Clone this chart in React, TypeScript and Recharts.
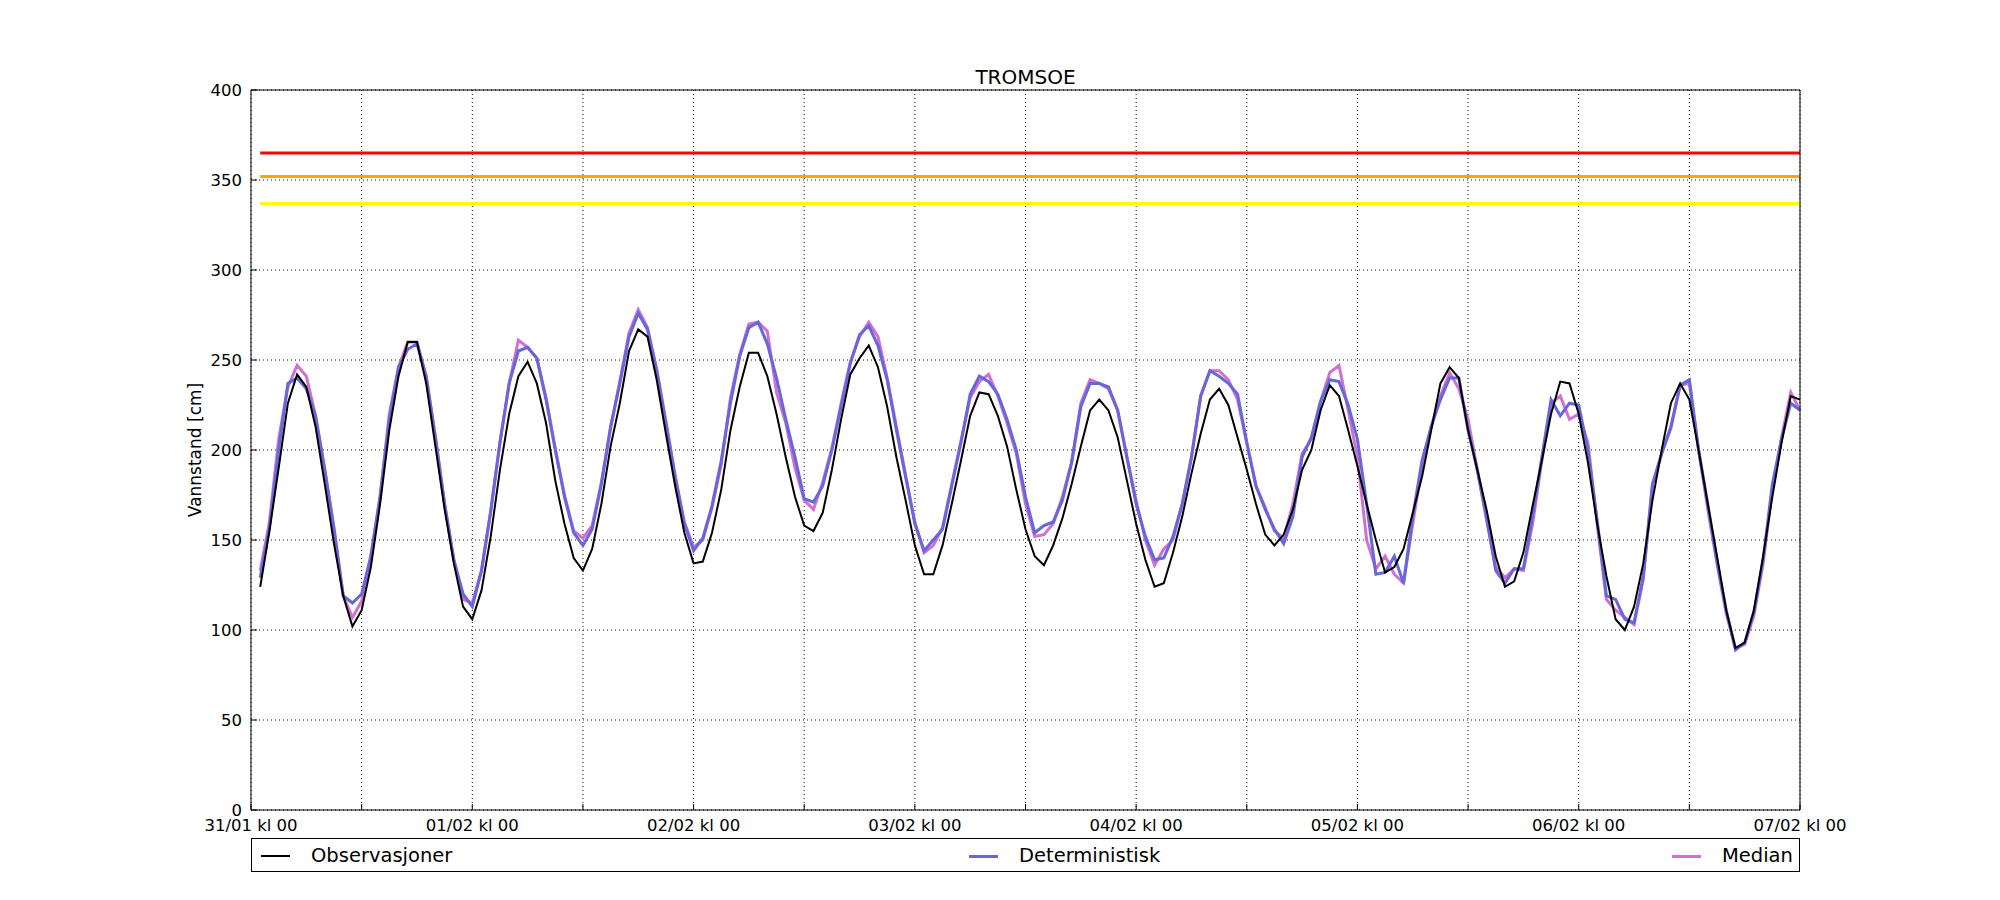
import { LineChart, Line, XAxis, YAxis, CartesianGrid, ReferenceLine } from "recharts";

// vannstand i cm, én verdi per time fra 31/01 kl 01 til 07/02 kl 00
const observasjoner = [
  124, 155, 190, 226, 242, 235, 213, 181, 148, 119, 102, 111,
  135, 170, 211, 241, 260, 260, 237, 202, 167, 137, 113, 106,
  122, 152, 189, 220, 241, 249, 237, 215, 183, 159, 140, 133,
  145, 170, 202, 226, 255, 267, 263, 239, 209, 180, 154, 137,
  138, 154, 178, 211, 235, 254, 254, 241, 220, 196, 174, 158,
  155, 165, 189, 217, 242, 251, 258, 246, 224, 196, 172, 147,
  131, 131, 147, 170, 194, 219, 232, 231, 219, 202, 178, 156,
  141, 136, 147, 162, 181, 202, 222, 228, 222, 207, 183, 159,
  139, 124, 126, 143, 163, 187, 209, 228, 234, 225, 207, 189,
  170, 153, 147, 153, 167, 189, 200, 222, 236, 230, 211, 191,
  170, 150, 132, 135, 145, 165, 185, 211, 237, 246, 240, 211,
  189, 167, 141, 124, 127, 143, 169, 194, 220, 238, 237, 220,
  193, 159, 130, 106, 100, 113, 137, 172, 200, 226, 237, 228,
  200, 170, 141, 111, 90, 93, 111, 141, 174, 204, 230, 228,
];

const deterministisk = [
  129, 157, 200, 237, 240, 234, 219, 189, 156, 119, 115, 120,
  141, 174, 217, 246, 256, 259, 241, 207, 170, 139, 120, 113,
  133, 166, 204, 237, 255, 257, 251, 228, 200, 174, 154, 147,
  156, 181, 213, 237, 263, 276, 267, 244, 215, 185, 159, 144,
  151, 169, 194, 226, 252, 268, 271, 259, 240, 217, 196, 173,
  171, 180, 200, 224, 248, 264, 269, 258, 239, 211, 185, 159,
  144, 150, 156, 180, 204, 231, 241, 238, 231, 217, 200, 174,
  154, 158, 160, 172, 193, 224, 237, 237, 235, 222, 196, 170,
  152, 139, 140, 152, 170, 196, 230, 244, 241, 237, 231, 204,
  180, 167, 156, 148, 163, 196, 207, 227, 239, 238, 225, 206,
  170, 131, 132, 141, 126, 163, 194, 213, 228, 240, 240, 211,
  189, 163, 133, 126, 134, 134, 163, 196, 228, 219, 226, 225,
  200, 161, 119, 117, 106, 104, 130, 181, 198, 213, 236, 239,
  200, 170, 138, 111, 89, 93, 110, 139, 181, 206, 226, 222,
];

const median = [
  133, 160, 206, 235, 247, 241, 219, 189, 157, 119, 107, 116,
  141, 174, 220, 246, 260, 260, 241, 207, 170, 139, 117, 115,
  133, 166, 204, 237, 261, 257, 251, 229, 201, 175, 155, 151,
  158, 182, 212, 238, 265, 278, 268, 245, 216, 186, 160, 146,
  150, 168, 192, 229, 253, 270, 271, 266, 232, 215, 190, 172,
  167, 182, 201, 226, 249, 263, 271, 263, 240, 213, 186, 160,
  143, 147, 157, 181, 205, 229, 238, 242, 230, 215, 198, 170,
  152, 153, 159, 174, 193, 226, 239, 237, 234, 222, 196, 172,
  150, 136, 145, 150, 170, 196, 230, 244, 244, 239, 228, 204,
  180, 168, 155, 151, 170, 198, 206, 227, 243, 247, 222, 196,
  150, 134, 141, 131, 126, 159, 191, 213, 230, 243, 234, 217,
  189, 161, 135, 129, 134, 133, 159, 194, 226, 230, 217, 220,
  204, 159, 117, 111, 107, 103, 128, 181, 198, 212, 236, 237,
  200, 167, 137, 109, 90, 92, 108, 137, 178, 207, 232, 222,
];

const dayLabels = [
  "31/01 kl 00", "01/02 kl 00", "02/02 kl 00", "03/02 kl 00",
  "04/02 kl 00", "05/02 kl 00", "06/02 kl 00", "07/02 kl 00",
];
const xTicks = [0, 12, 24, 36, 48, 60, 72, 84, 96, 108, 120, 132, 144, 156, 168];
const yTicks = [0, 50, 100, 150, 200, 250, 300, 350, 400];

// varslingsnivåer (rød, oransje, gul)
const thresholdValues = [365, 352, 337];
const THRESHOLD_COLORS = ["#ff0000", "#ffa500", "#ffff00"];

const OBS_COLOR = "#000000";
const DET_COLOR = "#6666dd";
const MED_COLOR = "#d070d0";
const FONT = "'DejaVu Sans', sans-serif";

const data = observasjoner.map((v, i) => ({
  hour: i + 1,
  obs: v,
  det: deterministisk[i],
  med: median[i],
}));

const tickStyle = { fontSize: 16.5, fill: "#000", fontFamily: FONT };

function LegendItem({ left, color, width, label }: { left: number; color: string; width: number; label: string }) {
  return (
    <div style={{ position: "absolute", left, top: 0, height: 34, display: "flex", alignItems: "center" }}>
      <div style={{ width: 29, height: width, background: color }} />
      <span style={{ marginLeft: 21, fontSize: 19.5, lineHeight: "20px" }}>{label}</span>
    </div>
  );
}

export default function App() {
  const hourFmt = (v: number) => (v % 24 === 0 ? dayLabels[v / 24] : "");
  const first = data[0].hour;
  const last = data[data.length - 1].hour;

  return (
    <div style={{ position: "absolute", left: 0, top: 0, width: 2000, height: 900, background: "#fff", fontFamily: FONT }}>
      <div style={{ position: "absolute", left: 251, top: 67, width: 1549, textAlign: "center", fontSize: 20, lineHeight: "20px" }}>
        TROMSOE
      </div>
      <div
        style={{
          position: "absolute",
          left: 195,
          top: 450,
          fontSize: 17,
          lineHeight: "17px",
          whiteSpace: "nowrap",
          transform: "translate(-50%, -50%) rotate(-90deg)",
        }}
      >
        Vannstand [cm]
      </div>

      <LineChart width={2000} height={900} data={data} margin={{ top: 80, right: 190, bottom: 60, left: 191 }}>
        <CartesianGrid stroke="#111" strokeDasharray="1 3" strokeWidth={1} />
        <XAxis
          dataKey="hour"
          type="number"
          domain={[0, 168]}
          ticks={xTicks}
          tickFormatter={hourFmt}
          interval={0}
          height={30}
          tick={tickStyle}
          tickSize={-6}
          tickMargin={15}
          axisLine={{ stroke: "#000" }}
          tickLine={{ stroke: "#000" }}
        />
        <XAxis
          xAxisId="top"
          orientation="top"
          type="number"
          domain={[0, 168]}
          ticks={xTicks}
          height={10}
          tick={false}
          tickSize={-6}
          axisLine={{ stroke: "#000" }}
          tickLine={{ stroke: "#000" }}
        />
        <YAxis
          type="number"
          domain={[0, 400]}
          ticks={yTicks}
          interval={0}
          width={60}
          tick={tickStyle}
          tickSize={-6}
          tickMargin={15}
          axisLine={{ stroke: "#000" }}
          tickLine={{ stroke: "#000" }}
        />
        <YAxis
          yAxisId="right"
          orientation="right"
          type="number"
          domain={[0, 400]}
          ticks={yTicks}
          width={10}
          tick={false}
          tickSize={-6}
          axisLine={{ stroke: "#000" }}
          tickLine={{ stroke: "#000" }}
        />
        {thresholdValues.map((v, i) => (
          <ReferenceLine
            key={v}
            segment={[{ x: first, y: v }, { x: last, y: v }]}
            stroke={THRESHOLD_COLORS[i]}
            strokeWidth={3}
          />
        ))}
        <Line type="linear" dataKey="med" stroke={MED_COLOR} strokeWidth={3} dot={false} isAnimationActive={false} />
        <Line type="linear" dataKey="det" stroke={DET_COLOR} strokeWidth={3} dot={false} isAnimationActive={false} />
        <Line type="linear" dataKey="obs" stroke={OBS_COLOR} strokeWidth={2} dot={false} isAnimationActive={false} />
      </LineChart>

      <div
        style={{
          position: "absolute",
          left: 251,
          top: 838,
          width: 1549,
          height: 34,
          boxSizing: "border-box",
          border: "1px solid #000",
        }}
      >
        <LegendItem left={9} color={OBS_COLOR} width={2} label="Observasjoner" />
        <LegendItem left={717} color={DET_COLOR} width={3} label="Deterministisk" />
        <LegendItem left={1420} color={MED_COLOR} width={3} label="Median" />
      </div>
    </div>
  );
}
